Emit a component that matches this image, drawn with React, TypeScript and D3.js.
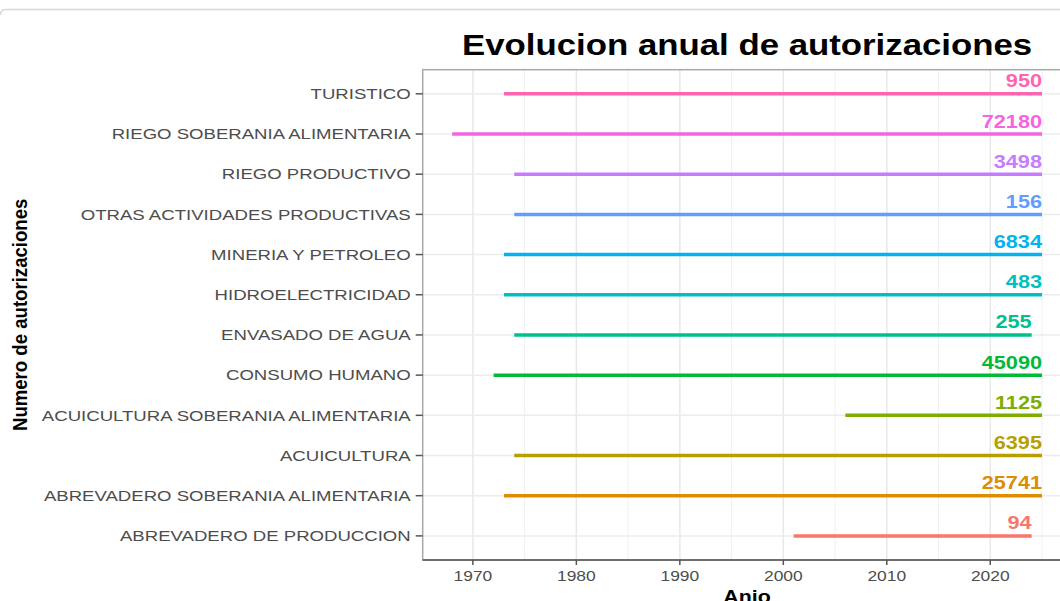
import React from "react";
import * as d3 from "d3";

const categories = [
  "ABREVADERO DE PRODUCCION",
  "ABREVADERO SOBERANIA ALIMENTARIA",
  "ACUICULTURA",
  "ACUICULTURA SOBERANIA ALIMENTARIA",
  "CONSUMO HUMANO",
  "ENVASADO DE AGUA",
  "HIDROELECTRICIDAD",
  "MINERIA Y PETROLEO",
  "OTRAS ACTIVIDADES PRODUCTIVAS",
  "RIEGO PRODUCTIVO",
  "RIEGO SOBERANIA ALIMENTARIA",
  "TURISTICO",
];
const startYears = [2001, 1973, 1974, 2006, 1972, 1974, 1973, 1973, 1974, 1974, 1968, 1973];
const endYears = [2024, 2025, 2025, 2025, 2025, 2024, 2025, 2025, 2025, 2025, 2025, 2025];
const totals = [94, 25741, 6395, 1125, 45090, 255, 483, 6834, 156, 3498, 72180, 950];
const colors = [
  "#F8766D", "#DE8C00", "#B79F00", "#7CAE00", "#00BA38", "#00C08B",
  "#00BFC4", "#00B4F0", "#619CFF", "#C77CFF", "#F564E3", "#FF64B0",
];
const majorTicks = [1970, 1980, 1990, 2000, 2010, 2020];
const minorTicks = [1975, 1985, 1995, 2005, 2015, 2025];

const W = 1060;
const H = 601;
const FONT = "'Liberation Sans', Arial, Helvetica, sans-serif";

function T(props: {
  x: number; y: number; children: React.ReactNode; size: number; anchor?: string;
  fill?: string; bold?: boolean; sx?: number; rotate?: number;
}) {
  const { x, y, children, size, anchor = "start", fill = "#000", bold = false, sx = 1.125, rotate = 0 } = props;
  return (
    <text
      transform={`translate(${x},${y}) scale(${sx},1)${rotate ? ` rotate(${rotate})` : ""}`}
      textAnchor={anchor}
      fontSize={size}
      fontFamily={FONT}
      fontWeight={bold ? "bold" : "normal"}
      fill={fill}
    >
      {children}
    </text>
  );
}

export default function App() {
  const panelLeft = 422.7;
  const panelTop = 69.7;
  const panelBottom = 560;
  const panelRight = 1071.5;
  const x = d3.scaleLinear().domain([1965.15, 2027.85]).range([panelLeft, panelRight]);
  const y = d3.scalePoint<string>().domain(categories).range([panelBottom, panelTop]).padding(0.6);

  return (
    <svg
      width={W}
      height={H}
      style={{ position: "absolute", left: 0, top: 0, display: "block", background: "#fff" }}
    >
      <rect x={0} y={0} width={W} height={H} fill="#fff" />
      {/* top frame line */}
      <path d={`M0.5,15 Q0.5,9.5 6,9.5 L${W},9.5`} fill="none" stroke="#d8d8d8" strokeWidth={1.5} />

      {/* grid */}
      {minorTicks.map((t) => (
        <line key={"mi" + t} x1={x(t)} x2={x(t)} y1={panelTop} y2={panelBottom} stroke="#f0f0f0" strokeWidth={1} />
      ))}
      {majorTicks.map((t) => (
        <line key={"ma" + t} x1={x(t)} x2={x(t)} y1={panelTop} y2={panelBottom} stroke="#e8e8e8" strokeWidth={1.5} />
      ))}
      {categories.map((c) => (
        <line key={"hg" + c} x1={panelLeft} x2={panelRight} y1={y(c)!} y2={y(c)!} stroke="#ececec" strokeWidth={1.5} />
      ))}

      {/* panel border */}
      <rect x={panelLeft} y={panelTop} width={panelRight - panelLeft} height={panelBottom - panelTop} fill="none" stroke="#a8a8a8" strokeWidth={1.5} />
      <line x1={panelLeft} x2={panelRight} y1={panelBottom} y2={panelBottom} stroke="#6e6e6e" strokeWidth={2} />

      {/* segments */}
      {categories.map((c, i) => (
        <line
          key={"seg" + c}
          x1={x(startYears[i])}
          x2={x(endYears[i])}
          y1={y(c)!}
          y2={y(c)!}
          stroke={colors[i]}
          strokeWidth={3.5}
        />
      ))}

      {/* end labels */}
      {categories.map((c, i) => (
        <T key={"lab" + c} x={x(endYears[i])} y={y(c)! - 6.5} size={17.5} anchor="end" fill={colors[i]} bold sx={1.24}>
          {totals[i]}
        </T>
      ))}

      {/* y axis ticks + labels */}
      {categories.map((c) => (
        <g key={"yt" + c}>
          <line x1={panelLeft - 7} x2={panelLeft} y1={y(c)!} y2={y(c)!} stroke="#555" strokeWidth={1.5} />
          <T x={panelLeft - 12} y={y(c)! + 5.3} size={15} anchor="end" fill="#4d4d4d" sx={1.24}>
            {c}
          </T>
        </g>
      ))}

      {/* x axis ticks + labels */}
      {majorTicks.map((t) => (
        <g key={"xt" + t}>
          <line x1={x(t)} x2={x(t)} y1={panelBottom} y2={panelBottom + 5} stroke="#555" strokeWidth={1.5} />
          <T x={x(t)} y={581} size={15.5} anchor="middle" fill="#4d4d4d">
            {t}
          </T>
        </g>
      ))}

      {/* titles */}
      <T x={(panelLeft + panelRight) / 2} y={55} size={30} anchor="middle" bold sx={1.16}>
        Evolucion anual de autorizaciones
      </T>
      <T x={(panelLeft + panelRight) / 2} y={603} size={19} anchor="middle" bold>
        Anio
      </T>
      <T x={27} y={(panelTop + panelBottom) / 2} size={18.6} anchor="middle" bold rotate={-90}>
        Numero de autorizaciones
      </T>
    </svg>
  );
}
